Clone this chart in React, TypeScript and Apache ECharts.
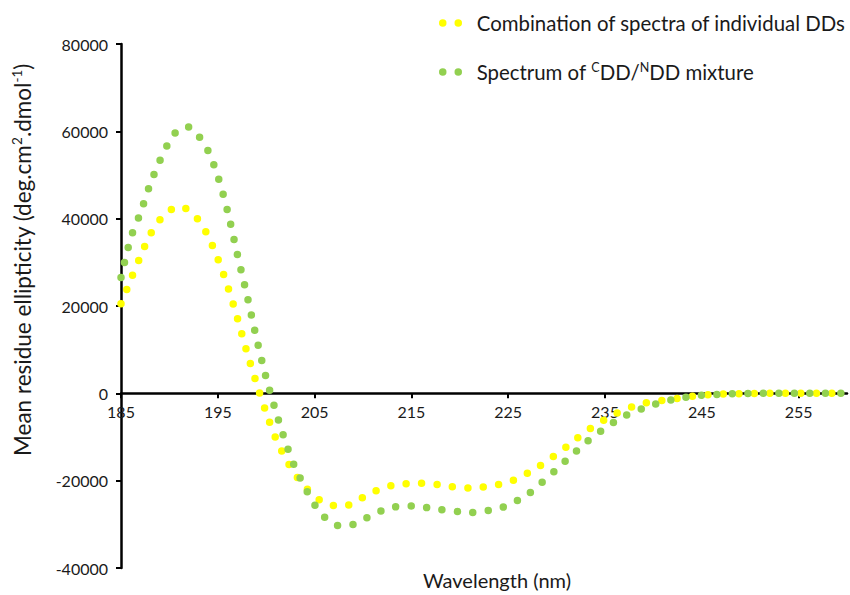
import React, { useEffect, useRef } from 'react';
import * as echarts from 'echarts';

const wavelengths = [
  185, 186, 187, 188, 189, 190, 191, 192, 193, 194, 195, 196, 197, 198, 199, 200,
  201, 202, 203, 204, 205, 206, 207, 208, 209, 210, 211, 212, 213, 214, 215, 216,
  217, 218, 219, 220, 221, 222, 223, 224, 225, 226, 227, 228, 229, 230, 231, 232,
  233, 234, 235, 236, 237, 238, 239, 240, 241, 242, 243, 244, 245, 246, 247, 248,
  249, 250, 251, 252, 253, 254, 255, 256, 257, 258, 259, 260,
];

const combinationValues = [
  20500, 26000, 31300, 36300, 39700, 41800, 42900, 41900, 39700, 36000, 30800, 24600, 17400, 9500, 2300, -4400,
  -10400, -14900, -18600, -21400, -23500, -25100, -25700, -25800, -25200, -23800, -22700, -21700, -21100, -20800, -20600, -20600,
  -20700, -21000, -21300, -21600, -21700, -21500, -21300, -20900, -20400, -19400, -18300, -17000, -15500, -13900, -12300, -10500,
  -8800, -7300, -6000, -4800, -3800, -2900, -2300, -1900, -1600, -1300, -1000, -700, -450, -300, -200, -120,
  -60, -30, 0, 0, 0, 0, 0, 0, 0, 0, 0, 0,
];

const mixtureValues = [
  26500, 35500, 41300, 47800, 53200, 57700, 60500, 61000, 59000, 55500, 49700, 41800, 32000, 22600, 12600, 3500,
  -4200, -11200, -17100, -21500, -25500, -28300, -30000, -30400, -30000, -29000, -27800, -26800, -26100, -25900, -25800, -26000,
  -26300, -26600, -26900, -27100, -27300, -27100, -26800, -26400, -25600, -24500, -23200, -21300, -19400, -17400, -15300, -13300,
  -11300, -9600, -8000, -6500, -5200, -4200, -3400, -2600, -2000, -1400, -1000, -700, -450, -300, -200, -120,
  -60, -30, 0, 0, 0, 0, 0, 0, 0, 0, 0, 0,
];

const seriesNames = ['Combination of spectra of individual DDs', 'Spectrum of CDD/NDD mixture'];
const seriesColors = ['#FFFF00', '#92D050'];

const FONT = 'Lato';

export default function App() {
  const ref = useRef<HTMLDivElement>(null);
  useEffect(() => {
    const chart = echarts.init(ref.current as HTMLDivElement, null, { renderer: 'svg' });
    const dotLine = (color: string) => ({ color, width: 7.5, type: [0, 15.5], cap: 'round' });
    chart.setOption({
      animation: false,
      backgroundColor: '#ffffff',
      grid: { left: 121, right: 3, top: 44, bottom: 27, containLabel: false },
      legend: {
        orient: 'vertical',
        left: 434,
        top: 8,
        itemWidth: 16,
        itemHeight: 12,
        itemGap: 28,
        data: seriesNames,
        itemStyle: { opacity: 0 },
        lineStyle: { width: 7.5, type: [0, 15.5], cap: 'round', opacity: 1 },
        formatter: (name: string) =>
          name === seriesNames[1]
            ? '{n|Spectrum of }{s|C}{n|DD/}{s|N}{n|DD mixture}'
            : '{n|' + name + '}',
        textStyle: {
          padding: [0, 0, 0, 13],
          rich: {
            n: { fontFamily: FONT, fontSize: 20.4, color: '#1a1a1a', lineHeight: 22 },
            s: { fontFamily: FONT, fontSize: 12.5, color: '#1a1a1a', verticalAlign: 'top', lineHeight: 13 },
          },
        },
      },
      xAxis: {
        type: 'value',
        min: 185,
        max: 260,
        interval: 10,
        splitLine: { show: false },
        axisLine: { onZero: true, lineStyle: { color: '#000', width: 2.5 } },
        axisTick: { length: 5, lineStyle: { color: '#000', width: 2 } },
        axisLabel: { showMaxLabel: false, margin: -165, fontFamily: FONT, fontSize: 16, color: '#1a1a1a' },
      },
      yAxis: {
        type: 'value',
        min: -40000,
        max: 80000,
        interval: 20000,
        splitLine: { show: false },
        axisLine: { show: true, onZero: false, lineStyle: { color: '#000', width: 2.5 } },
        axisTick: { show: true, length: 5, lineStyle: { color: '#000', width: 2 } },
        axisLabel: {
          margin: 13,
          fontFamily: FONT,
          fontSize: 16,
          color: '#1a1a1a',
          formatter: (v: number) => String(v),
        },
      },
      graphic: [
        {
          type: 'text',
          x: 22,
          y: 260,
          rotation: Math.PI / 2,
          style: {
            text: '{n|Mean residue ellipticity (deg.cm}{s|2}{n|.dmol}{s|-1}{n|)}',
            align: 'center',
            verticalAlign: 'middle',
            rich: {
              n: { fontFamily: FONT, fontSize: 22.5, fill: '#1a1a1a', lineHeight: 24 },
              s: { fontFamily: FONT, fontSize: 13.5, fill: '#1a1a1a', verticalAlign: 'top', lineHeight: 13 },
            },
          },
        },
        {
          type: 'text',
          x: 497,
          y: 580,
          style: {
            text: 'Wavelength (nm)',
            align: 'center',
            verticalAlign: 'middle',
            fontFamily: FONT,
            fontSize: 20,
            fill: '#1a1a1a',
          },
        },
      ],
      series: [
        {
          type: 'line',
          name: seriesNames[0],
          data: wavelengths.map((w, i) => [w, combinationValues[i]]),
          symbol: 'none',
          smooth: 0.3,
          color: seriesColors[0],
          lineStyle: dotLine(seriesColors[0]),
          z: 2,
        },
        {
          type: 'line',
          name: seriesNames[1],
          data: wavelengths.map((w, i) => [w, mixtureValues[i]]),
          symbol: 'none',
          smooth: 0.3,
          color: seriesColors[1],
          lineStyle: dotLine(seriesColors[1]),
          z: 3,
        },
      ],
    });
    return () => chart.dispose();
  }, []);
  return <div ref={ref} style={{ position: 'fixed', left: 0, top: 0, width: 850, height: 595 }} />;
}
